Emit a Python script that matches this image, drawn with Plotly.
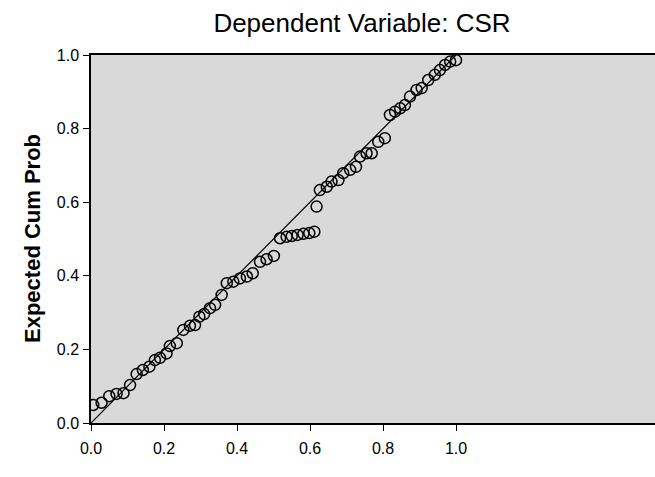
import plotly.graph_objects as go

# Observed cumulative probability (x) vs expected cumulative probability (y)
observed = [0.006, 0.029, 0.050, 0.070, 0.089, 0.107, 0.125, 0.142, 0.160, 0.175,
            0.189, 0.207, 0.216, 0.235, 0.253, 0.271, 0.285, 0.297, 0.310, 0.326,
            0.340, 0.358, 0.372, 0.390, 0.408, 0.427, 0.443, 0.463, 0.481, 0.501,
            0.518, 0.536, 0.550, 0.566, 0.582, 0.598, 0.612,
            0.618, 0.627, 0.646, 0.659, 0.678, 0.691, 0.710, 0.726, 0.737, 0.755,
            0.769, 0.787, 0.805, 0.819, 0.833, 0.847, 0.860, 0.874, 0.892, 0.906,
            0.924, 0.942, 0.956, 0.970, 0.984, 1.000]
expected = [0.049, 0.055, 0.073, 0.079, 0.081, 0.103, 0.133, 0.144, 0.153, 0.171,
            0.177, 0.189, 0.209, 0.217, 0.253, 0.264, 0.266, 0.289, 0.296, 0.312,
            0.321, 0.348, 0.380, 0.384, 0.393, 0.398, 0.407, 0.438, 0.445, 0.454,
            0.502, 0.506, 0.508, 0.511, 0.514, 0.516, 0.520,
            0.588, 0.633, 0.642, 0.656, 0.660, 0.679, 0.688, 0.696, 0.724, 0.733,
            0.733, 0.764, 0.774, 0.837, 0.846, 0.855, 0.864, 0.887, 0.905, 0.910,
            0.932, 0.946, 0.959, 0.973, 0.982, 0.986]
ref_line = [0.0, 1.0]
tick_vals = [0.0, 0.2, 0.4, 0.6, 0.8, 1.0]
tick_text = ["0.0", "0.2", "0.4", "0.6", "0.8", "1.0"]

title_text = "Dependent Variable: CSR"
x_title = "Observed Cum Prob"
y_title = "Expected Cum Prob"

FONT = "Liberation Sans, Arial, sans-serif"

fig = go.Figure()
fig.add_trace(go.Scatter(x=ref_line, y=ref_line, mode="lines",
                         line=dict(color="black", width=1.2),
                         showlegend=False, hoverinfo="skip"))
fig.add_trace(go.Scatter(x=observed, y=expected, mode="markers",
                         marker=dict(symbol="circle-open", size=11,
                                     color="black", line=dict(width=1.5)),
                         showlegend=False))

fig.update_layout(
    width=655, height=477,
    margin=dict(l=91, r=0, t=55, b=54),
    paper_bgcolor="white",
    plot_bgcolor="#d9d9d9",
    font=dict(family=FONT, color="black", size=16),
    title=dict(text=title_text, xref="container", x=362 / 655, xanchor="center",
               yref="container", y=1 - 23 / 477, yanchor="middle",
               font=dict(family=FONT, size=26, color="black")),
)
fig.update_xaxes(range=[0, 564 / 365], tickvals=tick_vals, ticktext=tick_text,
                 showgrid=False, zeroline=False, showline=True, linecolor="black",
                 linewidth=1.5, mirror=True, ticks="outside", ticklen=6,
                 tickcolor="black", ticklabelstandoff=4)
fig.update_yaxes(range=[0, 1], tickvals=tick_vals, ticktext=tick_text,
                 showgrid=False, zeroline=False, showline=True, linecolor="black",
                 linewidth=1.5, ticks="outside", ticklen=6, tickcolor="black",
                 ticklabelstandoff=1)

fig.add_annotation(text="<b>" + y_title + "</b>", textangle=-90,
                   xref="paper", yref="paper", x=(32 - 91) / 564, y=0.5,
                   xanchor="center", yanchor="middle", showarrow=False,
                   font=dict(family=FONT, size=22, color="black"))
# x-axis title: positioned like the reference, where it runs off the bottom edge
fig.add_annotation(text="<b>" + x_title + "</b>",
                   xref="x", yref="paper", x=0.5, y=(423 - 474) / 368,
                   xanchor="center", yanchor="top", showarrow=False,
                   font=dict(family=FONT, size=22, color="black"))

fig.write_html("out.html")
